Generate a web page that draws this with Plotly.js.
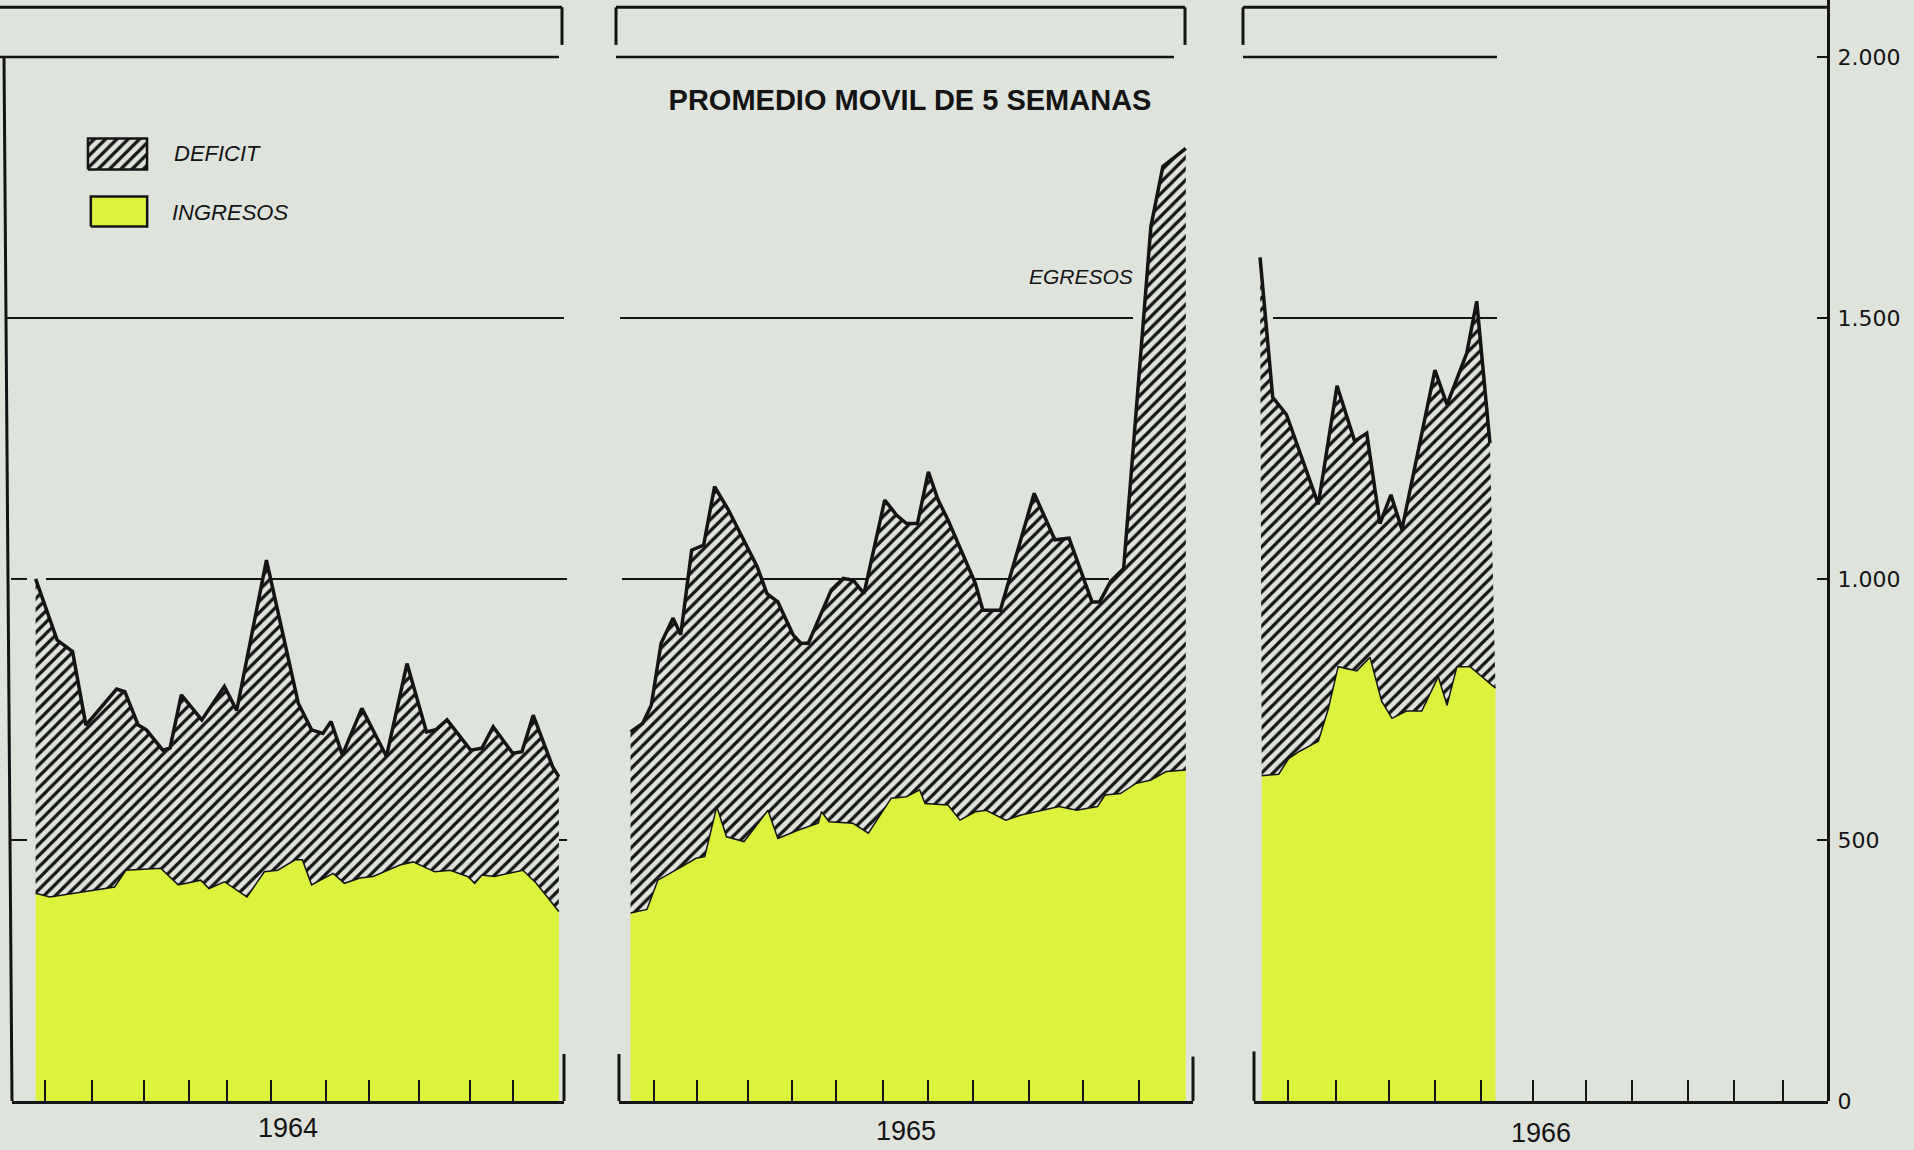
<!DOCTYPE html>
<html>
<head>
<meta charset="utf-8">
<script src="https://cdn.plot.ly/plotly-3.0.1.min.js"></script>
<style>
html,body{margin:0;padding:0;background:#dee3dc;}
#chart{width:1914px;height:1150px;}
</style>
</head>
<body>
<div id="chart"></div>
<script>
// ---------------- DATA (promedio móvil de 5 semanas) ----------------
const years = ['1964', '1965', '1966'];

// 1964
const semanaEgr1964 = [1,3.1,4.6,5.9,8.9,9.7,11,11.8,13.4,14.1,15.2,17.2,19.4,20.6,23.5,26.6,27.9,29,29.8,30.9,32.8,35.2,37.2,39.1,40,41.1,43.4,44.5,45.6,47.5,48.4,49.5,51.4,52];
const egresos1964    = [1000,883,861,720,789,784,720,711,672,676,778,730,794,748,1036,762,711,704,727,663,752,660,838,707,711,730,672,676,717,666,669,739,640,621];
const semanaIng1964 = [1,2.4,8.7,9.8,13.2,14.9,17.1,17.9,19.4,21.6,23.3,24.6,26.3,27,27.9,30,31.1,32.6,33.9,36.5,37.8,39.9,41.4,43.1,43.8,44.5,45.7,48.5,49.8,52];
const ingresos1964    = [398,391,410,442,446,414,423,407,420,391,439,442,462,462,414,436,417,427,430,452,458,439,442,430,417,433,430,442,417,363];

// 1965
const semanaEgr1965 = [1,2.1,2.9,3.8,4.9,5.6,6.6,7.7,8.7,9.9,12.6,13.5,14.5,15.9,16.6,17.3,19.4,20.5,21.4,22.4,24.3,25.4,26.3,27.3,28.3,29.2,30.1,31.4,32.6,33.3,34.9,38,39.9,41.2,43.3,44,45,46.2,48.7,49.8,51.9];
const egresos1965    = [707,723,758,877,925,893,1055,1065,1177,1135,1024,972,956,893,877,877,979,1001,998,972,1151,1122,1106,1106,1205,1151,1113,1049,992,940,940,1164,1075,1078,956,956,995,1020,1675,1790,1825];
const semanaIng1965 = [1,2.5,3.5,4.9,5.7,7,7.8,8.9,9.8,11.4,13.6,14.5,16.4,18.2,18.5,19.2,21.4,22.8,24.9,26.3,27.5,28,30.1,31.2,32.6,33.6,35.4,36.8,38.9,40.3,41.9,43.8,44.5,45.9,47.3,48.7,50.1,51.9];
const ingresos1965    = [360,367,423,439,449,465,468,564,506,497,557,503,519,532,554,535,532,513,580,583,596,570,567,538,554,557,538,548,557,564,557,564,586,589,608,615,631,634];

// 1966
const semanaEgr1966 = [1,2.15,3.4,6.3,8,9.6,10.7,11.9,12.9,13.9,16.9,18,19.8,20.7,21.9];
const egresos1966    = [1616,1348,1315,1143,1370,1264,1279,1106,1161,1095,1400,1334,1433,1532,1260];
const semanaIng1966 = [1.15,2.7,3.6,4.6,6.3,7.2,8.1,9.8,11,12.05,13,14.3,15.7,16.45,17.2,18,18.9,20.1,21.3,22.4];
const ingresos1966    = [623,626,656,670,689,751,832,824,850,766,733,747,747,780,813,758,832,832,810,791];

// month ticks (in weeks) along each year's base line
const ticks1964 = [1.92,6.5,11.57,15.95,19.65,23.94,29.3,33.5,38.4,43.3,47.5];
const ticks1965 = [3.17,7.09,11.79,15.82,19.85,24.1,28.24,32.38,37.52,42.45,47.6];
const ticks1966 = [3.55,7.86,12.7,16.95,21.1,25.85,30.6,34.8,39.9,44.1,48.5];

// value axis
const yTickVals = [0, 500, 1000, 1500, 2000];
const yTickText = ['0', '500', '1.000', '1.500', '2.000'];

// text
const titleText = 'PROMEDIO MOVIL DE 5 SEMANAS';
const labelDeficit = 'DEFICIT';
const labelIngresos = 'INGRESOS';
const labelEgresos = 'EGRESOS';

// ---------------- STYLE ----------------
const W = 1914, H = 1150;
const BG = '#dee3dc', YEL = '#dcf23c', INK = '#141414';
const AXIS_X = 1828;
const P = v => v / W;          // px -> paper x
const PY = v => 1 - v / H;     // px -> paper y
const hatch = {shape: '/', fgcolor: INK, bgcolor: BG, size: 8, solidity: 0.4};

function panel(xa, semE, egr, semI, ing, nameSuffix) {
  return [
    {type: 'scatter', mode: 'lines', name: labelIngresos + ' ' + nameSuffix,
     x: semI, y: ing, xaxis: xa, yaxis: 'y',
     fill: 'tozeroy', fillcolor: YEL, line: {color: INK, width: 1.5}, showlegend: false},
    {type: 'scatter', mode: 'lines', name: labelEgresos + ' ' + nameSuffix,
     x: semE, y: egr, xaxis: xa, yaxis: 'y',
     fill: 'tonexty', fillcolor: BG, fillpattern: hatch,
     line: {color: INK, width: 3.5}, showlegend: false}
  ];
}

const unitX = [0, 1, 1, 0, 0], unitY = [0, 0, 1, 1, 0];
const traces = [
  ...panel('x',  semanaEgr1964, egresos1964, semanaIng1964, ingresos1964, years[0]),
  ...panel('x2', semanaEgr1965, egresos1965, semanaIng1965, ingresos1965, years[1]),
  ...panel('x3', semanaEgr1966, egresos1966, semanaIng1966, ingresos1966, years[2]),
  // legend swatches
  {type: 'scatter', mode: 'lines', x: unitX, y: unitY, xaxis: 'x4', yaxis: 'y4',
   fill: 'toself', fillcolor: BG, fillpattern: hatch, line: {color: INK, width: 2.5}, showlegend: false, hoverinfo: 'skip'},
  {type: 'scatter', mode: 'lines', x: unitX, y: unitY, xaxis: 'x5', yaxis: 'y5',
   fill: 'toself', fillcolor: YEL, line: {color: INK, width: 2.5}, showlegend: false, hoverinfo: 'skip'}
];

function xAxis(dom, rng, tv) {
  return {domain: dom, range: rng, anchor: 'y', showline: true, linecolor: INK, linewidth: 3,
          ticks: 'inside', ticklen: 21, tickwidth: 2, tickcolor: INK, tickvals: tv,
          showticklabels: false, showgrid: false, zeroline: false, fixedrange: true};
}
const hidden = (dom, anchor) => ({domain: dom, range: [-0.05, 1.05], visible: false, anchor: anchor, fixedrange: true});

function seg(x0, x1, y0, y1, w, layer) {
  return {type: 'line', xref: 'paper', yref: 'y', x0: P(x0), x1: P(x1), y0: y0, y1: y1,
          line: {color: INK, width: w}, layer: layer || 'below'};
}
const shapes = [
  // panel 1964
  seg(0, 559, 2000, 2000, 2.5, 'above'),
  seg(0, 562, 2095, 2095, 3, 'above'),
  seg(562, 562, 2095, 2023, 3, 'above'),
  seg(6, 564, 1500, 1500, 2),
  seg(46, 567, 1000, 1000, 2),
  seg(11, 27, 1000, 1000, 2, 'above'),
  seg(11, 27, 500, 500, 2, 'above'),
  seg(559, 567, 500, 500, 2, 'above'),
  seg(4, 12, 2000, 0, 3, 'above'),
  seg(564, 564, 0, 90, 3, 'above'),
  // panel 1965
  seg(616, 1174, 2000, 2000, 2.5, 'above'),
  seg(616, 1185, 2095, 2095, 3, 'above'),
  seg(616, 616, 2095, 2023, 3, 'above'),
  seg(1185, 1185, 2095, 2023, 3, 'above'),
  seg(620, 1133, 1500, 1500, 2),
  seg(622, 1109, 1000, 1000, 2),
  seg(619, 619, 0, 90, 3, 'above'),
  seg(1193, 1193, 0, 85, 3, 'above'),
  // panel 1966
  seg(1243, 1497, 2000, 2000, 2.5, 'above'),
  seg(1243, AXIS_X, 2095, 2095, 3, 'above'),
  seg(1243, 1243, 2095, 2023, 3, 'above'),
  seg(1273, 1497, 1500, 1500, 2),
  seg(1254, 1254, 0, 95, 3, 'above')
];

const txtFont = (size) => ({family: 'Liberation Sans, Arial, sans-serif', size: size, color: INK});
const annotations = [
  {xref: 'x domain', yref: 'paper', x: 0.5, y: PY(1128), text: years[0], showarrow: false, font: txtFont(27), xanchor: 'center', yanchor: 'middle'},
  {xref: 'x2 domain', yref: 'paper', x: 0.5, y: PY(1131), text: years[1], showarrow: false, font: txtFont(27), xanchor: 'center', yanchor: 'middle'},
  {xref: 'x3 domain', yref: 'paper', x: 0.5, y: PY(1133), text: years[2], showarrow: false, font: txtFont(27), xanchor: 'center', yanchor: 'middle'},
  {xref: 'paper', yref: 'paper', x: P(172), y: PY(154), text: '<i>' + labelDeficit + '</i>', showarrow: false, font: txtFont(22), xanchor: 'left', yanchor: 'middle'},
  {xref: 'paper', yref: 'paper', x: P(170), y: PY(212), text: '<i>' + labelIngresos + '</i>', showarrow: false, font: txtFont(22), xanchor: 'left', yanchor: 'middle'},
  {xref: 'paper', yref: 'paper', x: P(1081), y: PY(276), text: '<i>' + labelEgresos + '</i>', showarrow: false, font: txtFont(21), xanchor: 'center', yanchor: 'middle'}
];

const layout = {
  width: W, height: H,
  margin: {l: 0, r: 0, t: 0, b: 0, pad: 0},
  paper_bgcolor: BG, plot_bgcolor: 'rgba(0,0,0,0)',
  showlegend: false,
  title: {text: '<b>' + titleText + '</b>', x: P(910), y: PY(100), xref: 'paper', yref: 'paper',
          xanchor: 'center', yanchor: 'middle', font: txtFont(29)},
  xaxis:  xAxis([P(12), P(564)],   [-1.30, 52.50], ticks1964),
  xaxis2: xAxis([P(619), P(1193)], [-0.06, 52.56], ticks1965),
  xaxis3: xAxis([P(1254), P(AXIS_X)], [0.45, 1 + (AXIS_X - 1260) / 11], ticks1966),
  yaxis: {domain: [1 - 1101 / H, 1], range: [0, 2109], anchor: 'free', position: P(AXIS_X), side: 'right',
          showline: true, linecolor: INK, linewidth: 3, ticks: 'inside', ticklen: 10, tickwidth: 2, tickcolor: INK,
          tickvals: yTickVals, ticktext: yTickText, ticklabelstandoff: 3,
          tickfont: {family: 'DejaVu Sans, sans-serif', size: 22, color: INK},
          showgrid: false, zeroline: false, fixedrange: true},
  xaxis4: hidden([P(85), P(150)], 'y4'),
  yaxis4: hidden([PY(171), PY(137)], 'x4'),
  xaxis5: hidden([P(88), P(150)], 'y5'),
  yaxis5: hidden([PY(228), PY(195)], 'x5'),
  shapes: shapes,
  annotations: annotations
};

Plotly.newPlot('chart', traces, layout, {displayModeBar: false, staticPlot: true});
</script>
</body>
</html>
